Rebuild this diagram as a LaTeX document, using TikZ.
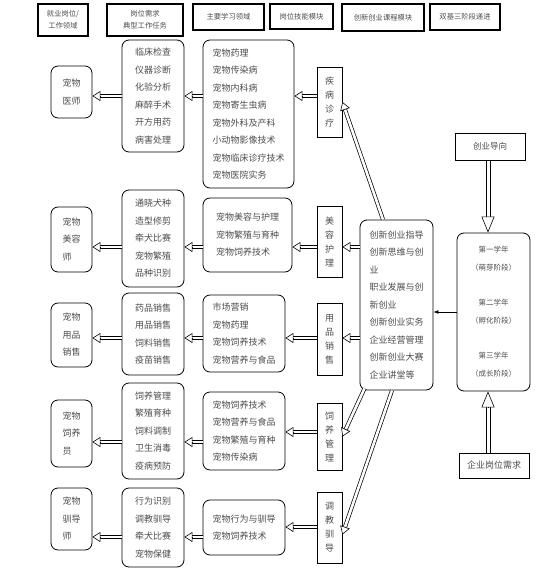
\documentclass[tikz,border=0pt]{standalone}
\usepackage{fontspec}
\newfontfamily\cjk{Noto Sans CJK SC}
\usetikzlibrary{arrows.meta,calc}

% hollow double arrow: tip length, tip width, line options, from, to
\newcommand{\hollow}[5]{%
  \draw[dbl,#3] (#4) -- ($(#5)!#1!(#4)$);
  \draw[line width=0.6pt,-{Triangle[open,fill=white,length=#1,width=#2]}] ($(#5)!#1!(#4)$) -- (#5);}
\newcommand{\harr}{\hollow{8pt}{10pt}{double distance=2.6pt}}
\newcommand{\Harr}{\hollow{16pt}{13pt}{double distance=3pt,line width=1pt}}

\begin{document}
\begin{tikzpicture}[x=1pt,y=-1pt,line width=0.8pt,
  every node/.style={font=\cjk\fontsize{9}{17.5}\selectfont,text=black!70,inner sep=0pt},
  head/.style={draw,line width=1.1pt,align=center,font=\cjk\fontsize{7.3}{12}\selectfont},
  rbox/.style={draw,rounded corners=7pt},
  sbox/.style={draw,align=center,font=\cjk\fontsize{9}{14}\selectfont},
  dbl/.style={double,line width=0.7pt}]
  \useasboundingbox (0,0) rectangle (550,578);
  % kopfzeile
  \node[head,minimum width=50pt,minimum height=32pt] (h1) at (63,20) {就业岗位/\\工作领域};
  \node[head,minimum width=76pt,minimum height=32pt] (h2) at (145,20) {岗位需求\\典型工作任务};
  \node[head,minimum width=71pt,minimum height=26pt] (h3) at (228.5,17) {主要学习领域};
  \node[head,minimum width=63pt,minimum height=25pt] (h4) at (301.5,16.5) {岗位技能模块};
  \node[head,minimum width=82pt,minimum height=27pt] (h5) at (383,17.5) {创新创业课程模块};
  \node[head,minimum width=70pt,minimum height=26pt] (h6) at (465,17) {双基三阶段递进};
  % row 1
  \node[rbox,align=left,minimum width=41pt,minimum height=52pt] (job1) at (71.5,92) {宠物\\医师};
  \node[rbox,align=center,minimum width=62pt,minimum height=112pt] (task1) at (153,96) {临床检查\\仪器诊断\\化验分析\\麻醉手术\\开方用药\\病害处理};
  \node[rbox,align=left,minimum width=91pt,minimum height=148pt] (learn1) at (248.5,114) {宠物药理\\宠物传染病\\宠物内科病\\宠物寄生虫病\\宠物外科及产科\\小动物影像技术\\宠物临床诊疗技术\\宠物医院实务};
  \node[sbox,minimum width=25pt,minimum height=70pt] (skill1) at (329.5,102) {疾\\病\\诊\\疗};
  % row 2
  \node[rbox,align=left,minimum width=41pt,minimum height=65pt] (job2) at (71.5,239.5) {宠物\\美容\\师};
  \node[rbox,align=center,minimum width=62pt,minimum height=97pt] (task2) at (153,238.5) {通晓犬种\\造型修剪\\牵犬比赛\\宠物繁殖\\品种识别};
  \node[rbox,align=left,minimum width=89pt,minimum height=74pt] (learn2) at (247.5,235) {宠物美容与护理\\宠物繁殖与育种\\宠物饲养技术};
  \node[sbox,minimum width=25pt,minimum height=71pt] (skill2) at (329.5,241.5) {美\\容\\护\\理};
  % row 3
  \node[rbox,align=left,minimum width=41pt,minimum height=64pt] (job3) at (71.5,335) {宠物\\用品\\销售};
  \node[rbox,align=center,minimum width=62pt,minimum height=82pt] (task3) at (153,334) {药品销售\\用品销售\\饲料销售\\疫苗销售};
  \node[rbox,align=left,minimum width=82pt,minimum height=77pt] (learn3) at (244,333.5) {市场营销\\宠物药理\\宠物饲养技术\\宠物营养与食品};
  \node[sbox,minimum width=25pt,minimum height=72pt] (skill3) at (329.5,339) {用\\品\\销\\售};
  % row 4
  \node[rbox,align=left,minimum width=41pt,minimum height=67pt] (job4) at (71.5,433.5) {宠物\\饲养\\员};
  \node[rbox,align=center,minimum width=62pt,minimum height=96pt] (task4) at (153,431) {饲养管理\\繁殖育种\\饲料调制\\卫生消毒\\疫病预防};
  \node[rbox,align=left,minimum width=82pt,minimum height=78pt] (learn4) at (244,431) {宠物饲养技术\\宠物营养与食品\\宠物繁殖与育种\\宠物传染病};
  \node[sbox,minimum width=25pt,minimum height=67pt] (skill4) at (329.5,436.5) {饲\\养\\管\\理};
  % row 5
  \node[rbox,align=left,minimum width=41pt,minimum height=62pt] (job5) at (71.5,519) {宠物\\驯导\\师};
  \node[rbox,align=center,minimum width=62pt,minimum height=79pt] (task5) at (153,527.5) {行为识别\\调教驯导\\牵犬比赛\\宠物保健};
  \node[rbox,align=left,minimum width=82pt,minimum height=55pt] (learn5) at (244,527.5) {宠物行为与驯导\\宠物饲养技术};
  \node[sbox,minimum width=25pt,minimum height=71pt] (skill5) at (329.5,527.5) {调\\教\\驯\\导};
  % rechte seite
  \node[rbox,align=left,minimum width=73pt,minimum height=170pt] (inno) at (396.5,305) {创新创业指导\\创新思维与创\\业\\职业发展与创\\新创业\\创新创业实务\\企业经营管理\\创新创业大赛\\企业讲堂等};
  \node[rbox,align=center,minimum width=73pt,minimum height=158pt,font=\cjk\fontsize{7.5}{18}\selectfont] (stage) at (493.5,312) {第一学年\\（萌芽阶段）\\[17pt]第二学年\\（孵化阶段）\\[17pt]第三学年\\（成长阶段）};
  \node[draw,line width=1pt,minimum width=70pt,minimum height=27pt,font=\cjk\fontsize{8.5}{10}\selectfont] (guide) at (490,146.5) {创业导向};
  \node[draw,line width=1pt,minimum width=70pt,minimum height=25pt] (demand) at (494,465.5) {企业岗位需求};
  % pfeile
  \foreach \r/\ya/\yb in {1/96/96,2/247/247,3/338/338,4/442/432,5/537/527}{
    \coordinate (a\r) at (0,\ya);
    \coordinate (b\r) at (0,\yb);
    \harr{task\r.west |- a\r}{job\r.east |- a\r}
    \harr{learn\r.west |- a\r}{task\r.east |- a\r}
    \harr{skill\r.west |- b\r}{learn\r.east |- b\r}
  }
  \coordinate (o1) at ([xshift=-13.5pt]inno.north);
  \coordinate (o4) at ([xshift=-32pt,yshift=2pt]inno.south);
  \coordinate (o5) at ([xshift=-4.5pt]inno.south);
  \coordinate (s5) at ([yshift=-7pt]skill5.east);
  \harr{o1}{skill1.east}
  \harr{inno.west |- a2}{skill2.east |- a2}
  \harr{inno.west |- a3}{skill3.east |- a3}
  \harr{o4}{skill4.east}
  \harr{o5}{s5}
  \draw[line width=0.6pt,-{Latex[length=5pt]}] (stage.west) -- (stage.west -| inno.east);
  \coordinate (g1) at ([xshift=-2pt]guide.south);
  \coordinate (g2) at (stage.north -| g1);
  \coordinate (g3) at (demand.north -| g1);
  \coordinate (g4) at (stage.south -| g1);
  \Harr{g1}{g2}
  \Harr{g3}{g4}
\end{tikzpicture}
\end{document}
